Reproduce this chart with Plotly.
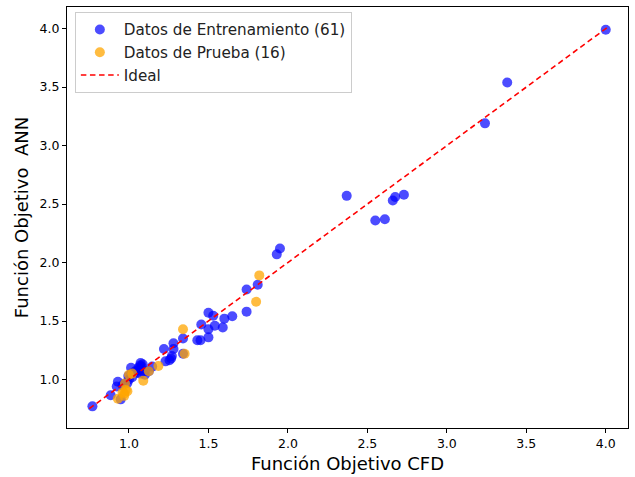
import plotly.graph_objects as go

# Training data (CFD, ANN)
train_cfd = [4.00, 3.38, 3.24, 2.73, 2.675, 2.66, 2.61, 2.55, 2.37, 1.95, 1.93,
             1.81, 1.74, 1.74, 1.65, 1.60, 1.53, 1.50, 1.54, 1.59, 1.455,
             1.50, 1.50, 1.45, 1.43, 1.34, 1.28, 1.28, 1.22, 1.265, 1.23, 1.34, 1.27, 1.255,
             0.77, 0.885, 0.948, 0.923, 0.93, 0.975, 0.996, 1.017, 1.013, 1.073, 1.086,
             1.048, 1.10, 1.125, 1.146, 1.00, 1.02, 1.06, 1.07, 1.03, 0.99, 1.08, 1.06,
             0.96, 1.04, 1.07, 1.10]
train_ann = [3.99, 3.54, 3.19, 2.58, 2.56, 2.53, 2.37, 2.36, 2.57, 2.12, 2.07,
             1.81, 1.77, 1.58, 1.54, 1.52, 1.545, 1.57, 1.46, 1.445, 1.47,
             1.43, 1.36, 1.335, 1.335, 1.35, 1.31, 1.26, 1.26, 1.18, 1.155, 1.22, 1.20, 1.165,
             0.77, 0.865, 0.83, 0.94, 0.98, 0.965, 1.03, 1.05, 1.10, 1.14, 1.13,
             1.06, 1.04, 1.07, 1.11, 1.00, 1.02, 1.10, 1.12, 1.06, 0.97, 1.11, 1.08,
             0.95, 1.07, 1.05, 1.07]

# Test data (CFD, ANN)
test_cfd = [1.82, 1.80, 1.34, 1.35, 1.185, 1.125, 1.09, 1.02, 0.975, 0.99, 0.97,
            0.93, 0.98, 0.96, 1.00, 0.97]
test_ann = [1.89, 1.665, 1.43, 1.22, 1.115, 1.07, 0.99, 1.05, 0.965, 0.90, 0.88,
            0.835, 0.91, 0.89, 1.04, 0.86]

# Ideal line end points
ideal_line = [0.75, 4.02]

# Axis ranges
x_range = [0.61, 4.14]
y_range = [0.585, 4.185]

train_name = f"Datos de Entrenamiento ({len(train_cfd)})"
test_name = f"Datos de Prueba ({len(test_cfd)})"

FONT = "DejaVu Sans"

fig = go.Figure()
fig.add_trace(go.Scatter(
    x=train_cfd, y=train_ann, mode="markers", name=train_name,
    marker=dict(color="blue", size=10, opacity=0.7, line=dict(width=0)),
))
fig.add_trace(go.Scatter(
    x=test_cfd, y=test_ann, mode="markers", name=test_name,
    marker=dict(color="orange", size=10, opacity=0.75, line=dict(width=0)),
))
fig.add_trace(go.Scatter(
    x=ideal_line, y=ideal_line, mode="lines", name="Ideal",
    line=dict(color="red", width=1.6, dash="5.5px,3.6px"),
))

axis_common = dict(
    showgrid=False, zeroline=False, showline=True, linecolor="black", linewidth=1,
    mirror=True, ticks="outside", ticklen=4, tickwidth=1, tickcolor="black",
    tickfont=dict(family=FONT, size=12.5, color="black"),
    dtick=0.5, tickformat=".1f",
)

fig.update_layout(
    width=635, height=477,
    margin=dict(l=67, r=6, t=7, b=47),
    paper_bgcolor="white", plot_bgcolor="white",
    font=dict(family=FONT, color="black"),
    xaxis=dict(range=x_range,
               title=dict(text="Función Objetivo CFD", font=dict(family=FONT, size=18), standoff=7),
               **axis_common),
    yaxis=dict(range=y_range,
               title=dict(text="Función Objetivo\u00a0 ANN", font=dict(family=FONT, size=18), standoff=6),
               **axis_common),
    legend=dict(
        x=0.014, y=0.988, xanchor="left", yanchor="top",
        bgcolor="rgba(255,255,255,0.8)", bordercolor="#cccccc", borderwidth=1,
        font=dict(family=FONT, size=15.2, color="#222222"),
        tracegroupgap=0, itemwidth=38,
    ),
    showlegend=True,
)

fig.write_html("out.html")
